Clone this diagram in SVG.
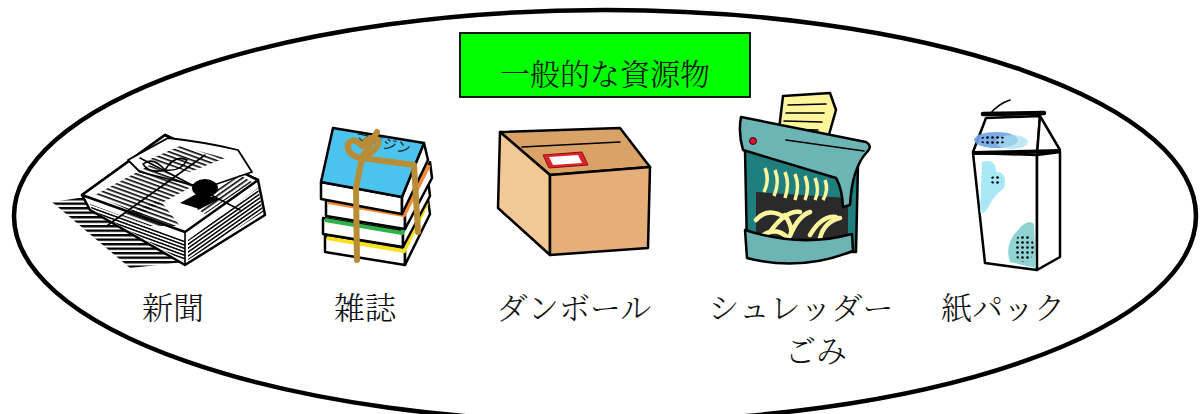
<svg xmlns="http://www.w3.org/2000/svg" width="1202" height="414" viewBox="0 0 1202 414">
<defs>
<style>
.lbl{font-family:"Noto Serif CJK JP","Noto Sans CJK JP",serif;font-size:31px;fill:#111;text-anchor:middle;font-weight:300}
.ink{stroke:#000;stroke-width:2.5;stroke-linejoin:round;stroke-linecap:round}
.thin{stroke:#000;stroke-width:1.6;fill:none;stroke-linecap:round}
.str{fill:none;stroke:#b98c36;stroke-width:6;stroke-linecap:round;stroke-linejoin:round}
</style>
<pattern id="hatch" width="8" height="4.5" patternUnits="userSpaceOnUse"><rect x="0" y="0" width="8" height="2.4" fill="#000"/></pattern>
<pattern id="pagesL" width="8" height="3.2" patternUnits="userSpaceOnUse" patternTransform="rotate(20)"><rect x="0" y="0" width="8" height="1.5" fill="#000"/></pattern>
<pattern id="pagesR" width="8" height="3.2" patternUnits="userSpaceOnUse" patternTransform="rotate(-35)"><rect x="0" y="0" width="8" height="1.5" fill="#000"/></pattern>
<pattern id="txtL" width="6" height="4" patternUnits="userSpaceOnUse" patternTransform="rotate(20)"><rect x="0" y="0" width="6" height="1.6" fill="#000"/></pattern>
<pattern id="txtR" width="6" height="4" patternUnits="userSpaceOnUse" patternTransform="rotate(-35)"><rect x="0" y="0" width="6" height="1.6" fill="#000"/></pattern>
<pattern id="dots" width="5" height="5" patternUnits="userSpaceOnUse"><circle cx="2.5" cy="2.5" r="1.3" fill="#000"/></pattern>
</defs>

<ellipse id="frame" cx="605" cy="216" rx="591" ry="206" fill="none" stroke="#000" stroke-width="4.5"/>

<g id="title">
<rect x="460" y="33" width="290" height="64" fill="#00ff00" stroke="#000" stroke-width="1.8"/>
<text x="605" y="85" class="lbl" style="font-size:30px">一般的な資源物</text>
</g>

<g id="newspaper">
<polygon points="52,202 92,196 185,262 130,268" fill="url(#hatch)"/>
<polygon points="82,195 165,135 258,180 265,215 185,265 90,210" fill="#fff" class="ink"/>
<polygon points="90,204 185,240 185,262 92,210" fill="url(#pagesL)"/>
<polygon points="188,240 258,188 263,212 188,260" fill="url(#pagesR)"/>
<polygon points="82,195 165,135 258,180 185,232" fill="#fff" class="ink"/>
<path d="M128,160 L168,138 Q205,142 238,150 L252,172 L205,188 L140,172 Z" fill="#fff" stroke="#000" stroke-width="1.8" stroke-linejoin="round"/>
<polygon points="95,195 150,165 195,185 140,215" fill="url(#txtL)"/>
<polygon points="190,205 240,175 252,182 205,214" fill="url(#txtR)"/>
<polygon points="148,160 180,146 225,158 190,172" fill="url(#txtL)"/>
<polygon points="120,215 160,200 180,226 150,226" fill="url(#txtL)"/>
<ellipse cx="205" cy="188" rx="13" ry="9" fill="#000"/>
<polygon points="180,203 200,209 220,199 198,193" fill="#000"/>
<path d="M108,225 L205,155 M140,158 L240,210" class="thin" stroke-width="2.2"/>
<path d="M165,170 q-12,-14 -22,-6 q6,10 22,6 q10,-16 22,-10 q-6,12 -22,10 z" fill="#fff" class="thin"/>
<path d="M185,232 L185,265" class="thin"/>
</g>

<g id="magazine">
<g>
<polygon points="325,236 405,249 405,265 325,252" fill="#fff" class="ink"/>
<polygon points="405,249 428,200 430,214 405,265" fill="#fff" class="ink"/>
<path d="M327,238 L404,251 L427,203" fill="none" stroke="#f5e21d" stroke-width="4"/>
</g>
<g>
<polygon points="323,218 403,231 403,247 323,234" fill="#fff" class="ink"/>
<polygon points="403,231 428,180 430,196 403,247" fill="#fff" class="ink"/>
<path d="M325,220 L402,233 L427,183" fill="none" stroke="#2db34a" stroke-width="4"/>
</g>
<g>
<polygon points="326,200 405,213 405,229 326,216" fill="#fff" class="ink"/>
<polygon points="405,213 430,162 432,178 405,229" fill="#fff" class="ink"/>
<path d="M328,202 L404,215 L429,165" fill="none" stroke="#f58a35" stroke-width="4"/>
</g>
<g>
<polygon points="321,182 402,197 402,214 321,199" fill="#fff" class="ink"/>
<polygon points="402,197 424,143 428,160 402,214" fill="#fff" class="ink"/>
<polygon points="333,128 424,143 402,197 321,182" fill="#4cc3ee" class="ink"/>
<text x="382" y="148" transform="rotate(12 382 148)" style="font-family:'Noto Sans CJK JP',sans-serif;font-size:14px;fill:#222" text-anchor="middle">マガジン</text>
</g>
<path class="str" d="M377,132 L362,158 L356,188 L357,260"/>
<path class="str" d="M362,158 L414,165 L418,232"/>
<path class="str" stroke-width="5" d="M360,158 q-14,-4 -12,-14 q6,-8 14,2 q8,-12 16,-6 q2,10 -18,18"/>
</g>

<g id="cardboard">
<polygon points="500,132 620,128 650,167 550,175" fill="#d9a266" class="ink"/>
<polygon points="500,132 550,175 550,255 498,208" fill="#f2c995" class="ink"/>
<polygon points="550,175 650,167 648,248 550,255" fill="#e5ae7a" class="ink"/>
<path d="M522,147 L620,142" class="thin" stroke-width="2.2"/>
<polygon points="543,155 582,152 588,165 549,168" fill="#e0202a" stroke="#8a1010" stroke-width="1"/>
<polygon points="549,157 578,155 582,163 553,165" fill="#fff"/>
</g>

<g id="shredder">
<polygon points="783,96 830,93 836,110 826,145 778,138" fill="#fff59d" class="ink"/>
<path d="M788,105 L826,104 M786,113 L824,113 M784,121 L822,122 M782,129 L818,130" class="thin"/>
<path d="M745,150 L747,250 L856,252 L858,165 Z" fill="#1f7f7e" class="ink"/>
<polygon points="756,192 848,198 848,240 756,238" fill="#2a2a2a"/>
<path d="M765,168 q5,12 -1,24 M775,170 q5,12 -1,26 M785,172 q5,12 0,26 M795,174 q5,12 0,26 M805,176 q5,12 0,24 M815,178 q5,12 0,22 M825,180 q4,10 -2,20" fill="none" stroke="#fff59d" stroke-width="3.5"/>
<path d="M756,220 q12,-14 30,-2 M770,232 q16,-22 30,-20 M790,236 q8,-20 20,-24 M810,235 q12,-20 26,-18 M762,236 q14,-10 26,2 M820,238 q4,-16 20,-20 M785,215 q10,16 4,22" fill="none" stroke="#fff59d" stroke-width="4.5" stroke-linecap="round"/>
<path d="M741,117 L866,142 Q873,146 867,152 Q852,168 850,205 L843,207 Q842,188 836,178 L743,150 Q738,133 741,117 Z" fill="#6db5b4" class="ink"/>
<path d="M786,140 L864,151" class="thin" stroke-width="2.5"/>
<circle cx="753" cy="141" r="3.5" fill="#e0102a" stroke="#000" stroke-width="0.8"/>
<path d="M745,230 Q800,248 852,234 L853,251 Q800,272 747,258 Z" fill="#6db5b4" class="ink"/>
</g>

<g id="carton">
<polygon points="986,118 1040,116 1037,155 973,152" fill="#fff" class="ink"/>
<polygon points="1040,116 1060,150 1037,155" fill="#fff" class="ink"/>
<polygon points="973,153 1037,155 1037,270 985,263" fill="#fff" class="ink"/>
<polygon points="1037,155 1060,152 1060,257 1037,270" fill="#fff" class="ink"/>
<path d="M983,114 L1044,113" stroke="#000" stroke-width="4.5" stroke-linecap="round"/>
<path d="M990,114 Q998,104 1010,100" class="thin" stroke-width="2"/>
<path d="M973,153 L1060,151" stroke="#000" stroke-width="4"/>
<ellipse cx="996" cy="140" rx="22" ry="8" fill="#6fa3e6" opacity="0.9"/>
<ellipse cx="1012" cy="142" rx="16" ry="7" fill="#a7dff0" opacity="0.7"/>
<ellipse cx="993" cy="140" rx="13" ry="5" fill="url(#dots)"/>
<path d="M982,162 q14,-4 14,10 q12,0 8,16 q-10,8 -14,16 q-6,12 -10,8 Z" fill="#a8e9f5"/>
<ellipse cx="996" cy="180" rx="6" ry="4.5" fill="url(#dots)"/>
<path d="M1010,262 q-6,-18 8,-32 q10,-12 16,-6 L1036,268 Z" fill="#8fd3d3"/>
<ellipse cx="1024" cy="248" rx="10" ry="14" fill="url(#dots)"/>
</g>

<g id="labels">
<text x="173" y="319" class="lbl">新聞</text>
<text x="365" y="319" class="lbl">雑誌</text>
<text x="574" y="319" class="lbl">ダンボール</text>
<text x="801" y="319" class="lbl">シュレッダー</text>
<text x="816" y="362" class="lbl">ごみ</text>
<text x="1003" y="319" class="lbl">紙パック</text>
</g>
</svg>
